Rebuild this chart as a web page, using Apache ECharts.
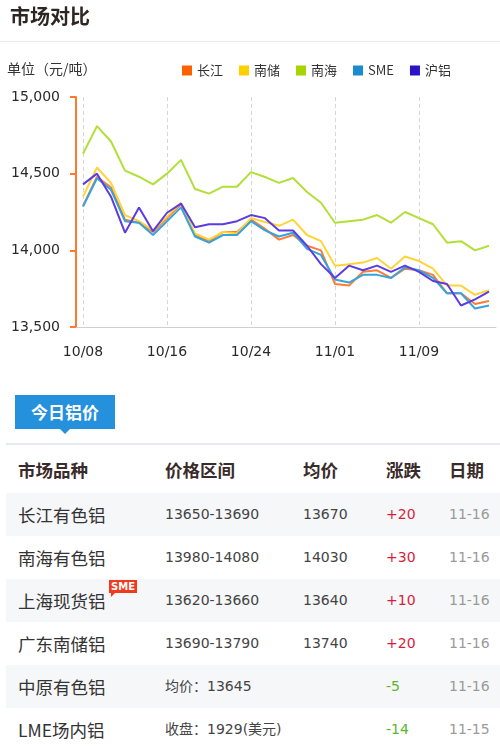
<!DOCTYPE html>
<html>
<head>
<meta charset="utf-8">
<script src="https://cdn.jsdelivr.net/npm/echarts@6/dist/echarts.min.js"></script>
<style>
  html, body { margin: 0; padding: 0; background: #fff; }
  body { width: 500px; height: 753px; position: relative; overflow: hidden;
         font-family: "DejaVu Sans", "Noto Sans CJK SC", sans-serif; color: #333; }
  #title { position: absolute; left: 10px; top: 1px; font: bold 20px "Noto Sans CJK SC", sans-serif; color: #2e2626; }
  #titleLine { position: absolute; left: 0; top: 41px; width: 500px; height: 1px; background: #ebebeb; }
  #chart { position: absolute; left: 0; top: 0; width: 500px; height: 380px; }
  #tab { position: absolute; left: 15px; top: 395px; width: 100px; height: 34px; background: #2590dc;
         color: #fff; font: bold 17px "Noto Sans CJK SC", sans-serif; line-height: 34px; text-align: center; }
  #tab:after { content: ""; position: absolute; left: 45px; top: 34px; border-left: 5px solid transparent;
               border-right: 5px solid transparent; border-top: 5px solid #2590dc; }
  #tabLine { position: absolute; left: 6px; top: 443px; width: 494px; height: 2px; background: #e7e9f0; }
  .row { position: absolute; left: 6px; width: 494px; height: 43px; }
  .row.alt { background: #f6f7f9; }
  .row div { position: absolute; top: 0; white-space: nowrap; }
  .c1 { left: 12px; font: 17.5px/43px "Noto Sans CJK SC", sans-serif; color: #333; }
  .c2 { left: 159px; font: 14px/43px "DejaVu Sans", "Noto Sans CJK SC", sans-serif; color: #444; }
  .c3 { left: 297px; font: 14px/43px "DejaVu Sans", sans-serif; color: #444; }
  .c4 { left: 380px; font: 14px/43px "DejaVu Sans", sans-serif; }
  .c5 { left: 443px; font: 14px/43px "DejaVu Sans", sans-serif; color: #9a9a9a; }
  .row.head div { font: bold 17.5px/43px "Noto Sans CJK SC", sans-serif; color: #3a2b2b; }
  .up { color: #d81e3c; }
  .down { color: #5cb531; }
  .row .badge { position: absolute; left: 103px; top: 1px; background: #f03a1e; color: #fff;
           font: bold 10px/13px "DejaVu Sans", sans-serif; padding: 0 2px; }
  .badge:after { content: ""; position: absolute; left: 2px; top: 13px; border-left: 4px solid #f03a1e;
                 border-bottom: 4px solid transparent; }
</style>
</head>
<body>
<div id="chart"></div>
<div id="title">市场对比</div>
<div id="titleLine"></div>
<div id="tab">今日铝价</div>
<div id="tabLine"></div>
<div id="table"></div>
<script>
// Trading days shown on the category axis
const dates = ['10/08','10/09','10/10','10/11','10/12','10/15','10/16','10/17','10/18','10/19',
               '10/22','10/23','10/24','10/25','10/26','10/29','10/30','10/31','11/01','11/02',
               '11/05','11/06','11/07','11/08','11/09','11/12','11/13','11/14','11/15','11/16'];

// Daily average prices (元/吨)
const changjiang = [14290,14480,14410,14200,14180,14120,14210,14300,14100,14060,14120,14120,14200,14140,14070,
                    14100,14030,14000,13780,13770,13860,13870,13820,13880,13870,13840,13720,13720,13650,13670];
const nanchu     = [14350,14540,14440,14230,14190,14130,14220,14310,14110,14070,14120,14110,14210,14185,14160,
                    14200,14100,14060,13900,13910,13920,13950,13880,13960,13930,13880,13770,13770,13710,13740];
const nanhai     = [14630,14810,14710,14520,14480,14430,14500,14590,14400,14370,14415,14415,14510,14478,14440,
                    14472,14380,14310,14180,14190,14200,14230,14180,14250,14210,14170,14050,14060,14000,14030];
const sme        = [14285,14470,14395,14190,14180,14100,14190,14280,14090,14050,14100,14100,14190,14130,14090,
                    14115,14010,13970,13810,13790,13840,13840,13820,13890,13870,13820,13720,13720,13620,13640];
const hulv       = [14430,14500,14350,14115,14280,14125,14245,14305,14150,14170,14170,14190,14230,14210,14130,
                    14130,14030,13910,13820,13900,13870,13900,13860,13900,13860,13800,13780,13640,13680,13730];

const seriesNames = ['长江', '南储', '南海', 'SME', '沪铝'];

// Y axis range
const yMin = 13500, yMax = 15000, yStep = 500;

// Today's price table
const tableHead = ['市场品种', '价格区间', '均价', '涨跌', '日期'];
const tableMarkets = ['长江有色铝', '南海有色铝', '上海现货铝', '广东南储铝', '中原有色铝', 'LME场内铝'];
const tableRanges  = ['13650-13690', '13980-14080', '13620-13660', '13690-13790', '均价：13645', '收盘：1929(美元)'];
const tableAvg     = ['13670', '14030', '13640', '13740', '', ''];
const tableChange  = ['+20', '+30', '+10', '+20', '-5', '-14'];
const tableDates   = ['11-16', '11-16', '11-16', '11-16', '11-16', '11-15'];

const iconColors = ['#ff6000', '#ffd000', '#a8d400', '#1b8bd0', '#2a12c8'];
const lineColors = ['#ff7c33', '#ffd43a', '#b2df38', '#35a3dd', '#5b3be2'];
const seriesData = [changjiang, nanchu, nanhai, sme, hulv];

const chart = echarts.init(document.getElementById('chart'), null, { renderer: 'canvas' });
chart.setOption({
  animation: false,
  textStyle: { fontFamily: '"DejaVu Sans", "Noto Sans CJK SC", sans-serif' },
  graphic: [{
    type: 'text', left: 7, top: 62,
    style: { text: '单位（元/吨）', font: '14px "Noto Sans CJK SC", sans-serif', fill: '#333' }
  }],
  legend: {
    left: 182, top: 64, padding: 0,
    itemWidth: 10, itemHeight: 10, itemGap: 16,
    icon: 'rect',
    textStyle: { fontSize: 13, color: '#333', fontFamily: '"Noto Sans CJK SC", "DejaVu Sans", sans-serif' },
    data: seriesNames
  },
  grid: { left: 76, right: 4, top: 97, bottom: 53, containLabel: false },
  xAxis: {
    type: 'category',
    data: dates,
    boundaryGap: true,
    axisLine: { lineStyle: { color: '#cfcfcf', width: 1 } },
    axisTick: { interval: 5, alignWithLabel: true, length: 5, lineStyle: { color: '#cfcfcf' } },
    axisLabel: { interval: 5, margin: 18, fontSize: 14, color: '#2a2a2a',
                 fontFamily: '"DejaVu Sans", sans-serif' },
    splitLine: { show: true, interval: 5, alignWithLabel: true,
                 lineStyle: { color: '#d6d6d6', type: [4, 3], width: 1 } }
  },
  yAxis: {
    type: 'value',
    min: yMin, max: yMax, interval: yStep,
    axisLine: { show: true, lineStyle: { color: '#ff7a2a', width: 2 } },
    axisTick: { show: true, length: 6, lineStyle: { color: '#ff7a2a', width: 2 } },
    axisLabel: { margin: 16, fontSize: 14, color: '#2a2a2a', fontFamily: '"DejaVu Sans", sans-serif',
                 formatter: v => v.toLocaleString('en-US') },
    splitLine: { show: false }
  },
  series: seriesNames.map((name, i) => ({
    name: name,
    type: 'line',
    data: seriesData[i],
    symbol: 'none',
    smooth: false,
    itemStyle: { color: iconColors[i] },
    lineStyle: { color: lineColors[i], width: 2 }
  }))
});

// Build the price table rows
const table = document.getElementById('table');
function addRow(top, cls, cells, extra) {
  const row = document.createElement('div');
  row.className = 'row ' + cls;
  row.style.top = top + 'px';
  cells.forEach((txt, j) => {
    const d = document.createElement('div');
    d.className = 'c' + (j + 1) + (extra && extra[j] ? ' ' + extra[j] : '');
    d.textContent = txt;
    row.appendChild(d);
  });
  table.appendChild(row);
  return row;
}
addRow(448, 'head', tableHead);
tableMarkets.forEach((m, i) => {
  const chg = tableChange[i];
  const row = addRow(493 + i * 43, i % 2 === 0 ? 'alt' : '',
    [m, tableRanges[i], tableAvg[i], chg, tableDates[i]],
    [null, null, null, chg.charAt(0) === '+' ? 'up' : 'down', null]);
  if (m === '上海现货铝') {
    const b = document.createElement('div');
    b.className = 'badge';
    b.textContent = 'SME';
    row.appendChild(b);
  }
});
</script>
</body>
</html>
